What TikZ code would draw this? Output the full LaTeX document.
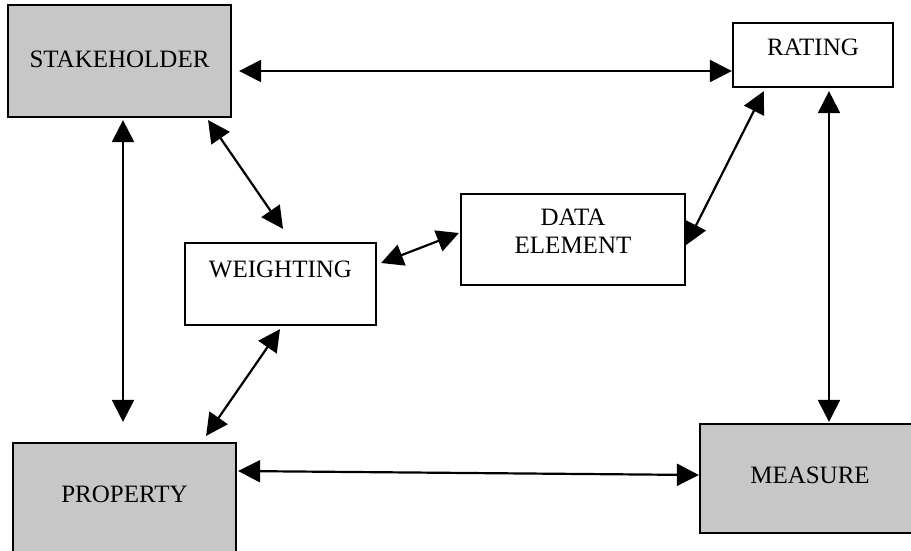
\documentclass[tikz,border=0pt]{standalone}
\usepackage{fontspec}
\setmainfont{Liberation Serif}
\usetikzlibrary{arrows.meta}
\definecolor{boxgray}{gray}{0.78}
\begin{document}
\begin{tikzpicture}[x=1pt,y=-1pt,
  box/.style={draw=black, line width=2.2pt, inner sep=0pt, align=center,
    font=\fontsize{25}{28}\selectfont},
  shaded/.style={box, fill=boxgray},
  link/.style={line width=2.2pt,
    {Triangle[length=22pt,width=22pt]}-{Triangle[length=22pt,width=22pt]}}]
\useasboundingbox (0,0) rectangle (911,550);
\clip (0,0) rectangle (911,550);
\node[shaded, minimum width=223pt, text height=62pt, text depth=50pt] (stake) at (119.5,61) {STAKEHOLDER};
\node[box, minimum width=160pt, text height=32pt, text depth=32pt] (rating) at (813,55) {RATING};
\node[box, minimum width=191pt, text height=34pt, text depth=48pt] (weight) at (280.5,284) {WEIGHTING};
\node[box, minimum width=224pt, text height=59pt, text depth=32pt] (data) at (573,239.5) {DATA\\ELEMENT};
\node[shaded, minimum width=223pt, text height=59pt, text depth=61pt] (prop) at (124.5,503) {PROPERTY};
\node[shaded, minimum width=220pt, text height=59pt, text depth=50pt] (meas) at (810,478.5) {MEASURE};

\draw[link] ([shift={(7,10)}]stake.east) -- ([shift={(0,16)}]rating.west);
\draw[link] ([shift={(3.5,2)}]stake.south) -- ([shift={(-1.5,-20)}]prop.north);
\draw[link] ([shift={(-24,2)}]stake.south east) -- ([shift={(2.5,-13)}]weight.north);
\draw[link] ([shift={(4,-21)}]weight.east) -- ([shift={(-1,-6.5)}]data.west);
\draw[link] ([shift={(-0.5,3)}]weight.south) -- ([shift={(-31,-6)}]prop.north east);
\draw[link] ([shift={(0,5.5)}]data.east) -- ([shift={(32,3)}]rating.south west);
\draw[link] ([shift={(16,3)}]rating.south) -- ([shift={(19,-1)}]meas.north);
\draw[link] ([shift={(1,-32)}]prop.east) -- ([shift={(0,-3.5)}]meas.west);
\end{tikzpicture}
\end{document}
